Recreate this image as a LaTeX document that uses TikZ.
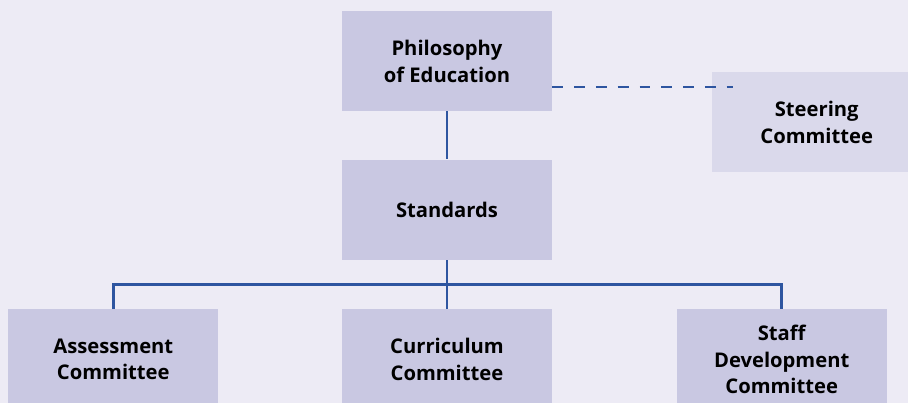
\documentclass[tikz,border=0pt]{standalone}
\usepackage{fontspec}
\setmainfont{Open Sans}
\usepackage{tikz}
\usepackage{xcolor}
\usetikzlibrary{positioning, calc}
\definecolor{paper}{HTML}{EDEBF5}
\definecolor{boxfill}{HTML}{C9C8E2}
\definecolor{softfill}{HTML}{DAD9EB}
\definecolor{linkblue}{HTML}{2E55A0}
\tikzstyle{unit} = [rectangle, minimum width=4.2cm, minimum height=2cm, text centered, align=center, fill=boxfill, font=\fontsize{11.5}{15.3}\selectfont\bfseries]
\tikzstyle{advisory} = [unit, fill=softfill]
\tikzstyle{line} = [draw=linkblue, line width=1.4pt]
\tikzstyle{dashline} = [line, dash pattern=on 6.2pt off 6.2pt]

\begin{document}
\begin{tikzpicture}

% Background
\fill [paper] (0,0) rectangle (18.16,-8.06);
\useasboundingbox (0,0) rectangle (18.16,-8.06);

% Top of the chart
\node (philosophy) [unit] at (8.94,-1.22) {Philosophy\\of Education};
\node (standards) [unit, below=0.96cm of philosophy] {Standards};

% Steering committee
\node (steering) [advisory, right=3.18cm of philosophy, yshift=-1.22cm] {Steering\\Committee};

% Committees
\node (curriculum) [unit, below=0.98cm of standards] {Curriculum\\Committee};
\node (assessment) [unit, left=2.46cm of curriculum] {Assessment\\Committee};
\node (staff-dev) [unit, right=2.48cm of curriculum] {Staff\\Development\\Committee};

% Links
\coordinate (dash-end) at (14.66,-1.74);
\coordinate (bar) at ($(standards.south)!0.5!(curriculum.north)$);
\draw [dashline] (philosophy.east |- dash-end) -- (dash-end);
\draw [line] (philosophy) -- (standards);
\draw [line] (standards) -- (curriculum);
\draw [line] (assessment.north) |- (bar) -| (staff-dev.north);

\end{tikzpicture}
\end{document}
